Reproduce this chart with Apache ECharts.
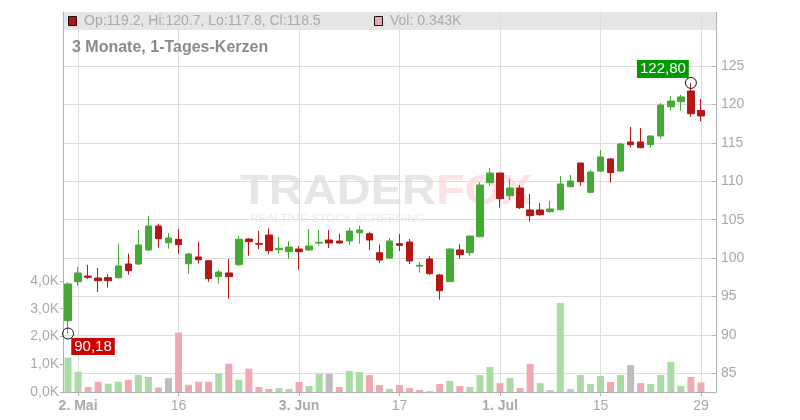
<!DOCTYPE html>
<html>
<head>
<meta charset="utf-8">
<script src="https://cdn.jsdelivr.net/npm/echarts@6/dist/echarts.min.js"></script>
<style>html,body{margin:0;padding:0;background:#fff}#c{width:800px;height:420px}</style>
</head>
<body>
<div id="c"></div>
<script>
const dates = [
 '01.05','02.05','03.05','06.05','07.05','08.05','09.05','10.05','13.05','14.05','15.05','16.05','17.05','20.05','21.05','22.05','23.05','24.05','27.05','28.05','29.05','30.05','31.05',
 '03.06','04.06','05.06','06.06','07.06','10.06','11.06','12.06','13.06','14.06','17.06','18.06','19.06','20.06','21.06','24.06','25.06','26.06','27.06','28.06',
 '01.07','02.07','03.07','04.07','05.07','08.07','09.07','10.07','11.07','12.07','15.07','16.07','17.07','18.07','19.07','22.07','23.07','24.07','25.07','26.07','29.07','30.07'
];
const tickLabels = {'02.05':'2. Mai','16.05':'16','03.06':'3. Jun','17.06':'17','01.07':'1. Jul','15.07':'15','29.07':'29'};
const monthStarts = ['02.05','03.06','01.07'];
const opens  = [91.85,96.93,97.66,97.4,97.45,97.45,99.23,99.23,101.05,104.17,102.0,102.44,99.27,100.14,99.66,97.58,98.06,99.14,102.48,101.9,103.0,101.1,100.83,101.18,101.05,101.95,102.35,102.22,102.22,103.3,103.17,100.7,100.0,101.87,102.09,98.95,99.88,97.8,96.93,101.05,100.7,102.79,109.81,111.07,108.12,109.12,106.26,106.26,106.04,106.3,109.29,112.37,108.56,111.33,112.9,111.33,115.11,115.11,114.76,115.89,119.7,120.36,121.75,119.2];
const closes = [96.63,98.06,97.5,97.05,97.05,98.97,98.36,101.7,104.17,102.52,102.61,101.74,100.53,99.79,97.32,98.19,97.58,102.44,102.13,101.8,100.96,101.27,101.44,100.83,101.57,102.05,101.96,101.96,103.52,103.65,102.35,99.75,102.22,101.66,99.62,99.06,97.97,95.75,101.18,100.44,102.87,109.51,111.07,107.73,109.12,106.56,105.52,105.65,106.39,109.64,110.03,109.94,111.2,113.16,111.12,114.85,114.76,114.37,115.89,119.92,120.44,120.97,118.79,118.5];
const lows   = [90.18,96.4,97.28,95.6,96.15,97.35,97.84,99.1,101.0,101.35,101.22,100.57,97.97,99.27,96.93,96.67,94.72,99.0,100.31,101.18,100.49,100.62,99.92,98.49,100.96,101.61,101.31,101.9,101.7,101.87,101.05,99.36,99.95,100.92,99.23,98.1,97.8,94.59,96.9,99.92,100.31,102.7,109.42,106.56,107.56,106.39,104.74,105.52,105.91,106.2,109.2,109.42,108.43,111.2,109.81,111.2,114.41,114.3,114.37,115.5,119.18,119.18,118.4,117.8];
const highs  = [96.85,98.84,99.1,98.7,97.9,101.87,100.57,103.65,105.48,104.47,103.26,103.78,100.6,102.09,99.7,98.45,99.88,102.91,102.61,103.52,103.87,102.74,102.22,101.57,103.78,103.65,103.65,103.17,103.96,104.22,103.43,101.74,102.61,103.13,102.48,99.49,100.27,97.93,101.3,101.79,102.9,109.86,111.72,111.1,110.29,109.51,108.34,107.17,107.43,110.68,110.81,112.4,111.46,114.07,113.0,114.98,117.06,116.93,115.95,120.18,121.1,121.27,122.8,120.7];
const volumes = [1.24,0.73,0.18,0.37,0.30,0.37,0.44,0.62,0.54,0.16,0.50,2.14,0.26,0.37,0.37,0.67,1.02,0.44,0.84,0.18,0.11,0.14,0.11,0.36,0.22,0.66,0.66,0.18,0.76,0.72,0.61,0.25,0.11,0.25,0.14,0.07,0.03,0.29,0.40,0.22,0.18,0.61,0.90,0.32,0.50,0.14,1.01,0.32,0.07,3.21,0.11,0.61,0.29,0.58,0.36,0.61,0.97,0.32,0.29,0.61,1.08,0.22,0.54,0.343];
const volDir = ['u','u','d','d','u','u','d','u','u','d','n','d','d','d','d','u','d','u','d','d','d','u','u','d','u','u','n','d','u','u','d','d','u','d','d','d','d','d','u','d','u','u','u','d','u','d','d','u','u','u','u','u','u','u','d','u','n','d','u','u','u','u','d','d'];
const priceTicks = [85,90,95,100,105,110,115,120,125];
const volTicks = [0,1,2,3,4];

const FONT = "'Liberation Sans', Arial, sans-serif";
const GREEN = '#44aa33', RED = '#b51616';
const VOLC = {u:'#aadba4', d:'#f0a9b2', n:'#bdbdbd'};

const candleData = opens.map((o,i)=>[o, closes[i], lows[i], highs[i]]);
const volData = volumes.map((v,i)=>({value:v, itemStyle:{color:VOLC[volDir[i]]}}));
const showIdx = (idx, val) => tickLabels.hasOwnProperty(val);

const chart = echarts.init(document.getElementById('c'), null, {renderer:'canvas'});
chart.setOption({
  animation:false,
  backgroundColor:'#fff',
  textStyle:{fontFamily:FONT},
  grid:{left:63, right:84, top:12, bottom:28},
  graphic:[
    {type:'rect', z:-10, shape:{x:63, y:12, width:653, height:18}, style:{fill:'#e6e6e6'}},
    {type:'rect', z:5, shape:{x:68.5, y:16.5, width:8, height:9}, style:{fill:RED, stroke:'#111', lineWidth:1}},
    {type:'text', z:5, x:84, y:21, style:{text:'Op:119.2, Hi:120.7, Lo:117.8, Cl:118.5', fill:'#aaaaaa', font:"14px "+FONT, verticalAlign:'middle'}},
    {type:'rect', z:5, shape:{x:374.5, y:16.5, width:8, height:9}, style:{fill:'#f0a9b2', stroke:'#111', lineWidth:1}},
    {type:'text', z:5, x:390, y:21, style:{text:'Vol: 0.343K', fill:'#aaaaaa', font:"14px "+FONT, verticalAlign:'middle'}},
    {type:'text', z:5, x:72, y:48, style:{text:'3 Monate, 1-Tages-Kerzen', fill:'#8a8a8a', font:"bold 16px "+FONT, verticalAlign:'middle'}},
    {type:'text', z:-5, x:240, y:192, scaleX:1.12, originX:0, originY:0, style:{
      text:'{a|TRADER}{b|FOX}', verticalAlign:'middle',
      rich:{a:{fill:'#e6e6e6', font:"bold 42px "+FONT}, b:{fill:'#fde1e4', font:"bold 42px "+FONT}}}},
    {type:'text', z:-5, x:250, y:219, scaleX:1.18, originX:0, originY:0, style:{text:'REALTIME STOCK SCREENING', fill:'#ebebeb', font:"10px "+FONT, verticalAlign:'middle'}}
  ],
  xAxis:{
    type:'category', data:dates, boundaryGap:true,
    axisLine:{lineStyle:{color:'#b0b0b0'}},
    axisTick:{show:true, alignWithLabel:true, interval:showIdx, length:4, lineStyle:{color:'#b0b0b0'}},
    axisLabel:{interval:showIdx, margin:7, fontSize:14, color:'#a8a8a8',
      formatter:(v)=> monthStarts.includes(v) ? '{b|'+tickLabels[v]+'}' : (tickLabels[v]||''),
      rich:{b:{fontWeight:'bold', fontSize:14, color:'#a8a8a8', fontFamily:FONT}}},
    splitLine:{show:true, alignWithLabel:true, interval:showIdx, lineStyle:{color:'#dddddd'}}
  },
  yAxis:[
    {type:'value', position:'right', min:82.566, max:132.03, scale:true,
      axisLine:{show:true, lineStyle:{color:'#b0b0b0'}},
      axisTick:{show:true, inside:true, length:4, customValues:priceTicks, lineStyle:{color:'#b0b0b0'}},
      axisLabel:{customValues:priceTicks, margin:5, fontSize:14, color:'#a8a8a8'},
      splitLine:{show:true, lineStyle:{color:'#dddddd'}}},
    {type:'value', position:'left', min:0, max:13.69,
      axisLine:{show:true, lineStyle:{color:'#b0b0b0'}},
      axisTick:{show:true, length:3, customValues:volTicks, lineStyle:{color:'#b0b0b0'}},
      axisLabel:{customValues:volTicks, margin:4, fontSize:14, color:'#a8a8a8',
        formatter:(v)=> v.toFixed(1).replace('.',',')+'K'},
      splitLine:{show:false}}
  ],
  series:[
    {type:'bar', yAxisIndex:1, data:volData, barWidth:7, silent:true, z:1},
    {type:'candlestick', yAxisIndex:0, data:candleData, barWidth:7, silent:true, z:3,
      itemStyle:{color:GREEN, color0:RED, borderColor:GREEN, borderColor0:RED, borderWidth:1},
      markPoint:{silent:true, animation:false, data:[
        {coord:['01.05', lows[0]], symbol:'circle', symbolSize:11, itemStyle:{color:'rgba(0,0,0,0)', borderColor:'#111', borderWidth:1}, label:{show:false}},
        {coord:['01.05', lows[0]], symbol:'rect', symbolSize:1, itemStyle:{color:'rgba(0,0,0,0)'},
          label:{show:true, position:'inside', offset:[25,13], formatter:'90,18', color:'#fff', fontSize:15, fontFamily:FONT, backgroundColor:'#cc0000', padding:[1,3], lineHeight:15}},
        {coord:['26.07', highs[62]], symbol:'circle', symbolSize:11, itemStyle:{color:'rgba(0,0,0,0)', borderColor:'#111', borderWidth:1}, label:{show:false}},
        {coord:['26.07', highs[62]], symbol:'rect', symbolSize:1, itemStyle:{color:'rgba(0,0,0,0)'},
          label:{show:true, position:'inside', offset:[-28,-14], formatter:'122,80', color:'#fff', fontSize:15, fontFamily:FONT, backgroundColor:'#009900', padding:[1,3], lineHeight:16}}
      ]}}
  ]
});
</script>
</body>
</html>
